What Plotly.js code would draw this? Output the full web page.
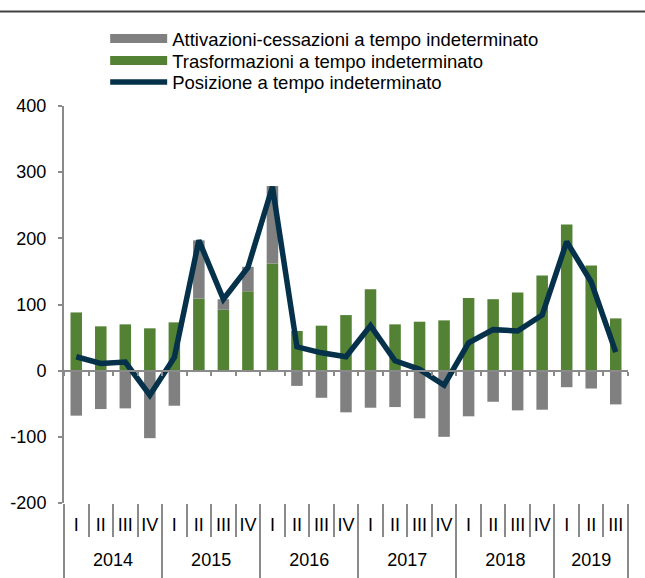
<!DOCTYPE html>
<html><head><meta charset="utf-8">
<script src="https://cdn.plot.ly/plotly-3.0.1.min.js"></script>
<style>html,body{margin:0;padding:0;background:#fff}#chart{width:645px;height:578px}</style>
</head><body><div id="chart"></div>
<script>
const xYear = ['2014','2014','2014','2014','2015','2015','2015','2015','2016','2016','2016','2016',
  '2017','2017','2017','2017','2018','2018','2018','2018','2019','2019','2019'];
const xQuarter = ['I','II','III','IV','I','II','III','IV','I','II','III','IV',
  'I','II','III','IV','I','II','III','IV','I','II','III'];
const yearLabels = ['2014','2015','2016','2017','2018','2019'];
const trasformazioni = [88,67,70,64,73,109,92,120,162,60,68,84,123,70,74,76,110,108,118,144,221,159,79];
const attivazioniCessazioni = [-68,-58,-57,-102,-53,88,16,37,117,-23,-41,-63,-56,-55,-72,-100,-69,-47,-60,-59,-25,-27,-51];
const posizione = [21,11,13,-37,20,197,108,156,278,36,27,21,68,15,2,-22,42,62,60,84,195,134,28];
const yTickVals = [-200,-100,0,100,200,300,400];
const yTickText = ['-200','-100','0','100','200','300','400'];

const nameAtt = 'Attivazioni-cessazioni a tempo indeterminato';
const nameTra = 'Trasformazioni a tempo indeterminato';
const namePos = 'Posizione a tempo indeterminato';
const GRAY = '#808080', GREEN = '#548235', NAVY = '#05324a', AXIS = '#8a8a8a';
const FONT = 'Arial, "Liberation Sans", sans-serif';

// category keys (one per quarter) and derived axis decorations
const periods = xYear.map((y, i) => xQuarter[i] + ' ' + y);
const n = periods.length;
const innerBounds = [], yearBounds = [-0.5], yearCenters = [];
yearLabels.forEach(yr => {
  const idx = xYear.map((v, i) => v === yr ? i : -1).filter(i => i >= 0);
  yearCenters.push((idx[0] + idx[idx.length - 1]) / 2);
  yearBounds.push(idx[idx.length - 1] + 0.5);
});
for (let i = 0; i < n - 1; i++) if (xYear[i] === xYear[i + 1]) innerBounds.push(i + 0.5);
const allBounds = periods.map((_, i) => i - 0.5).concat([n - 0.5]);
const R = [-0.5, n - 0.5];

const data = [
  {type:'bar', x:periods, y:trasformazioni, name:nameTra, marker:{color:GREEN}, showlegend:false},
  {type:'bar', x:periods, y:attivazioniCessazioni, name:nameAtt, marker:{color:GRAY}, showlegend:false},
  {type:'scatter', mode:'lines', x:periods, y:posizione, name:namePos,
   line:{color:NAVY, width:5.5}, legend:'legend3'},
  {type:'scatter', mode:'lines', x:[null], y:[null], xaxis:'x2', name:nameAtt, line:{color:GRAY, width:9}, legend:'legend', showlegend:true},
  {type:'scatter', mode:'lines', x:[null], y:[null], xaxis:'x3', name:nameTra, line:{color:GREEN, width:9}, legend:'legend2', showlegend:true},
  {type:'scatter', mode:'lines', x:[null], y:[null], xaxis:'x4', showlegend:false},
  {type:'scatter', mode:'lines', x:[null], y:[null], xaxis:'x5', showlegend:false}
];

const legBase = {x:0.073, xanchor:'left', yanchor:'top', font:{size:18.5, family:FONT, color:'#000'},
                 itemwidth:57, bgcolor:'rgba(0,0,0,0)'};
const hidden = {showline:false, showgrid:false, zeroline:false, range:R, fixedrange:true};

const layout = {
  width:645, height:578,
  margin:{l:64, r:17, t:106, b:75, autoexpand:false},
  paper_bgcolor:'#fff', plot_bgcolor:'#fff',
  font:{family:FONT, size:18, color:'#000'},
  barmode:'relative', bargap:0.53,
  showlegend:true,
  legend:Object.assign({}, legBase, {y:1.2166}),
  legend2:Object.assign({}, legBase, {y:1.1612}),
  legend3:Object.assign({}, legBase, {y:1.1071}),
  // quarter labels
  xaxis:Object.assign({}, hidden, {type:'category', tickmode:'array', tickvals:periods, ticktext:xQuarter,
         ticks:'', tickangle:0, ticklabelstandoff:9, tickfont:{size:18, family:FONT, color:'#000'}}),
  // zero line with small boundary ticks
  xaxis2:Object.assign({}, hidden, {overlaying:'x', anchor:'free', position:1/3, showline:true, linecolor:AXIS, linewidth:2,
          ticks:'outside', tickvals:allBounds, ticklen:4, tickwidth:2, tickcolor:AXIS, showticklabels:false}),
  // quarter separators
  xaxis3:Object.assign({}, hidden, {overlaying:'x', anchor:'free', position:0,
          ticks:'outside', tickvals:innerBounds, ticklen:33, tickwidth:2, tickcolor:AXIS, showticklabels:false}),
  // year labels
  xaxis4:Object.assign({}, hidden, {overlaying:'x', anchor:'free', position:0, ticks:'', tickmode:'array',
          tickvals:yearCenters, ticktext:yearLabels, tickangle:0, ticklabelstandoff:44, tickfont:{size:18, family:FONT, color:'#000'}}),
  // year dividers
  xaxis5:Object.assign({}, hidden, {overlaying:'x', anchor:'free', position:0,
          ticks:'outside', tickvals:yearBounds, ticklen:74, tickwidth:2, tickcolor:AXIS, showticklabels:false}),
  yaxis:{range:[-200, 400], tickmode:'array', tickvals:yTickVals, ticktext:yTickText, showline:true, linecolor:AXIS, linewidth:2,
         ticks:'outside', ticklen:4, tickwidth:2, tickcolor:AXIS, showgrid:false, zeroline:false, ticklabelstandoff:8,
         tickfont:{size:18, family:FONT, color:'#000'}, fixedrange:true},
  shapes:[{type:'line', xref:'paper', yref:'paper', x0:-64/564, x1:581/564, y0:(503-11.5)/397, y1:(503-11.5)/397,
           line:{color:'#404040', width:2}}]
};

Plotly.newPlot('chart', data, layout, {displayModeBar:false, staticPlot:true});
</script></body></html>
